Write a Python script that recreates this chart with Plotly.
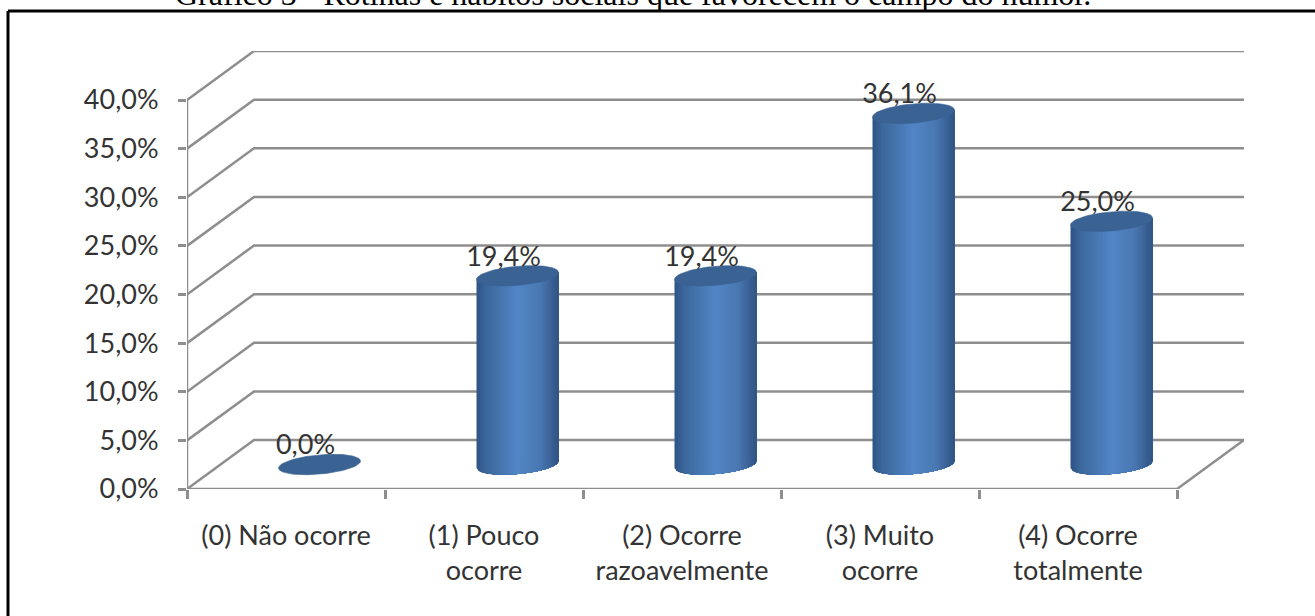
import numpy as np
import plotly.graph_objects as go

# Survey results
categories = ["(0) Não ocorre", "(1) Pouco<br>ocorre", "(2) Ocorre<br>razoavelmente",
              "(3) Muito<br>ocorre", "(4) Ocorre<br>totalmente"]
percentages = [0.0, 19.4, 19.4, 36.1, 25.0]
y_ticks = [0, 5, 10, 15, 20, 25, 30, 35, 40]
title_text = "Gráfico 3 - Rotinas e hábitos sociais que favorecem o campo do humor."

W, H = 1315, 616
L, R, T, B = 187, 1244, 51, 489      # plot area in page pixels
FRONT_W = 990                        # width of the front floor edge
Y_SCALE = (489 - 100) / 40           # pixels per percentage point
X_SCALE = FRONT_W / len(categories)  # pixels per category
DX = (R - L - FRONT_W) / X_SCALE     # depth offset, axis units
DY = (B - T) / Y_SCALE - 40          # depth offset, axis units
GRID = "#8e8e8e"
FONT = "Lato"
TEXT = "#333333"

fig = go.Figure()


def line(xs, ys, width=2.5):
    fig.add_trace(go.Scatter(x=xs, y=ys, mode="lines", hoverinfo="skip",
                             line=dict(color=GRID, width=width), cliponaxis=False))


# Back wall and side wall gridlines
for v in y_ticks:
    line([0, DX, 5 + DX], [v, v + DY, v + DY])
# Floor edge and value axis
line([0, 5, 5 + DX], [0, 0, DY])
line([0, 0], [0, 40])

# Cylinder geometry, in axis units
A = 41 / X_SCALE
BY = 9.6 / Y_SCALE
SHEAR = 3.5 / Y_SCALE
STOPS = [(0.0, (47, 84, 134)), (0.12, (60, 104, 156)), (0.5, (82, 134, 198)),
         (0.78, (74, 120, 178)), (1.0, (48, 84, 132))]


def shade(f):
    pos = [s[0] for s in STOPS]
    rgb = [np.interp(f, pos, [s[1][c] for s in STOPS]) for c in range(3)]
    return "rgb(%d,%d,%d)" % tuple(rgb)


def ellipse_y(u, side):
    # Vertical offset of the tilted rim at horizontal fraction u in [-1, 1]
    return SHEAR * u + side * BY * np.sqrt(np.clip(1 - u * u, 0, 1))


# Gradient body: each band runs to the right edge and the next one paints over it,
# which leaves no seams between neighbouring bands
N = 48
edges = np.linspace(-1, 1, N + 1)
for k in range(N):
    sub = np.linspace(edges[k], 1, 40)
    xs, ys = [], []
    for i, v in enumerate(percentages):
        if v <= 0:
            continue
        cx = i + 0.5 + DX / 2
        cy = DY / 2
        xs += list(cx + A * sub) + list(cx + A * sub[::-1]) + [None]
        ys += list(cy + ellipse_y(sub, -1)) + list(cy + v + ellipse_y(sub[::-1], 0)) + [None]
    fig.add_trace(go.Scatter(x=xs, y=ys, mode="lines", fill="toself", hoverinfo="skip",
                             fillcolor=shade((k + 0.5) / N), line=dict(width=0)))

# Cylinder tops
t = np.linspace(0, 2 * np.pi, 90)
for i, v in enumerate(percentages):
    cx = i + 0.5 + DX / 2
    cy = DY / 2 + v
    fig.add_trace(go.Scatter(x=cx + A * np.cos(t),
                             y=cy + SHEAR * np.cos(t) + BY * np.sin(t),
                             mode="lines", fill="toself", hoverinfo="skip",
                             fillcolor="#3a6293", line=dict(color="#3a6293", width=0.6)))

# Value labels
fig.add_trace(go.Scatter(
    x=[i + 0.5 + DX / 2 - 14 / X_SCALE for i in range(len(percentages))],
    y=[v + DY / 2 + 17 / Y_SCALE for v in percentages],
    mode="text", hoverinfo="skip", cliponaxis=False,
    text=[f"{v:.1f}%".replace(".", ",") for v in percentages],
    textposition="middle center",
    textfont=dict(family=FONT, size=27, color=TEXT)))

fig.update_layout(
    width=W, height=H, autosize=False, showlegend=False,
    paper_bgcolor="white", plot_bgcolor="white",
    margin=dict(l=L, r=W - R, t=T, b=H - B, pad=0),
    xaxis=dict(range=[0, 5 + DX], showgrid=False, zeroline=False, showline=False,
               tickmode="array", tickvals=[i + 0.5 for i in range(5)], ticktext=categories,
               ticks="", ticklabelstandoff=28, automargin=False,
               tickfont=dict(family=FONT, size=27, color=TEXT),
               minor=dict(tickmode="array", tickvals=list(range(6)), ticks="outside",
                          ticklen=9, tickwidth=2.5, tickcolor=GRID, showgrid=False)),
    yaxis=dict(range=[0, 40 + DY], showgrid=False, zeroline=False, showline=False,
               tickmode="array", tickvals=y_ticks,
               ticktext=[f"{v:.1f}%".replace(".", ",") for v in y_ticks],
               ticks="outside", ticklen=8, tickwidth=2.5, tickcolor=GRID,
               ticklabelstandoff=14, automargin=False,
               tickfont=dict(family=FONT, size=27, color=TEXT)),
    shapes=[
        dict(type="line", xref="paper", yref="paper",
             x0=(8 - L) / (R - L), x1=(W - L) / (R - L),
             y0=(B - 11) / (B - T), y1=(B - 11) / (B - T),
             line=dict(color="black", width=3)),
        dict(type="line", xref="paper", yref="paper",
             x0=(8 - L) / (R - L), x1=(8 - L) / (R - L),
             y0=(B - 11) / (B - T), y1=(B - H) / (B - T),
             line=dict(color="black", width=3)),
    ],
    annotations=[dict(text=title_text, xref="paper", yref="paper", showarrow=False,
                      x=(633 - L) / (R - L), y=(B - 4) / (B - T),
                      xanchor="center", yanchor="bottom", yshift=-10,
                      font=dict(family="Liberation Serif", size=32, color="black"))],
)

fig.write_html("out.html")
